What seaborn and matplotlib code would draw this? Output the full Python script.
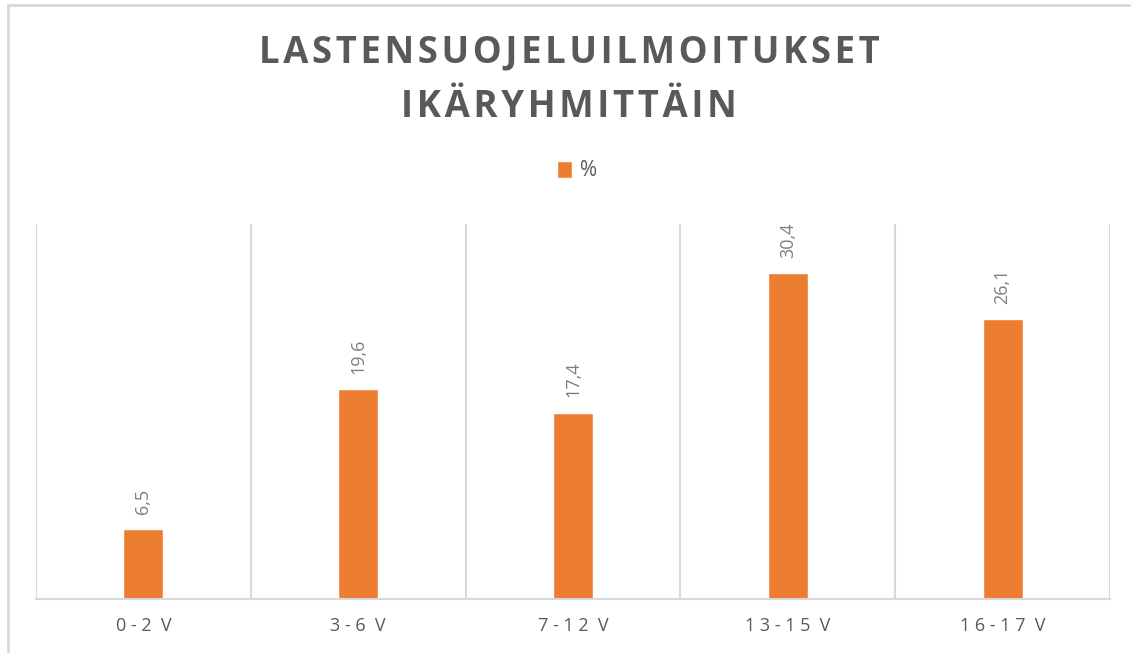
import matplotlib
matplotlib.use('Agg')
import matplotlib.pyplot as plt
import seaborn as sns
import pandas as pd
from matplotlib.patches import Rectangle
from matplotlib.ticker import FixedLocator

age_groups = ['0 - 2  V', '3 - 6  V', '7 - 1 2  V', '1 3 - 1 5  V', '1 6 - 1 7  V']
percent = [6.5, 19.6, 17.4, 30.4, 26.1]
series_name = '%'
title_lines = ['LASTENSUOJELUILMOITUKSET', 'IKÄRYHMITTÄIN']


def spaced(s, gap='\u200a'):
    # fake letter spacing
    return gap.join(s)


def main():
    sns.set_theme(style='white')
    plt.rcParams['font.family'] = ['Open Sans', 'DejaVu Sans']

    df = pd.DataFrame({'age': age_groups, 'pct': percent})

    fig = plt.figure(figsize=(11.31, 6.53), dpi=100)
    ax = fig.add_axes([0.0318, 0.0827, 0.9496, 0.5743])

    sns.barplot(data=df, x='age', y='pct', color='#ED7D31', saturation=1,
                width=0.186, label=series_name, legend=False, ax=ax)
    if ax.get_legend() is not None:
        ax.get_legend().remove()
    ax.set_xlim(-0.5, len(age_groups) - 0.5)
    ax.set_ylim(0, 35)

    # gridlines on category boundaries
    ax.xaxis.set_minor_locator(FixedLocator([i - 0.5 for i in range(len(age_groups) + 1)]))
    ax.grid(which='minor', axis='x', color='#D9D9D9', linewidth=1.5)
    ax.grid(which='major', visible=False)
    for s in ['top', 'left', 'right']:
        ax.spines[s].set_visible(False)
    ax.spines['bottom'].set_color('#D9D9D9')
    ax.spines['bottom'].set_linewidth(1.5)

    ax.set_yticks([])
    ax.set_xlabel('')
    ax.set_ylabel('')
    ax.tick_params(axis='x', which='both', length=0, pad=13, labelsize=13, labelcolor='#595959')

    labels = [f'{v:.1f}'.replace('.', ',') for v in percent]
    ax.bar_label(ax.containers[0], labels=labels, rotation=90, padding=11,
                 fontsize=13, color='#7F7F7F')

    title = '\n'.join(spaced(t) for t in title_lines)
    fig.text(0.503, 0.878, title, ha='center', va='center', fontsize=26.3,
             fontweight='bold', color='#595959', linespacing=1.55,
             family=['Open Sans', 'DejaVu Sans'])

    handles, _ = ax.get_legend_handles_labels()
    fig.legend(handles[:1], [series_name], loc='center',
               bbox_to_anchor=(577 / 1131, 1 - 171 / 653), frameon=False,
               fontsize=15, handlelength=0.7, handleheight=0.9, handletextpad=0.4,
               labelcolor='#595959')

    fig.patches.append(Rectangle((8 / 1131, -0.1), 1.2, 0.1 + 648 / 653,
                                 transform=fig.transFigure, fill=False,
                                 edgecolor='#D9D9D9', linewidth=2))

    plt.savefig('out.png', dpi=100)


if __name__ == '__main__':
    main()
